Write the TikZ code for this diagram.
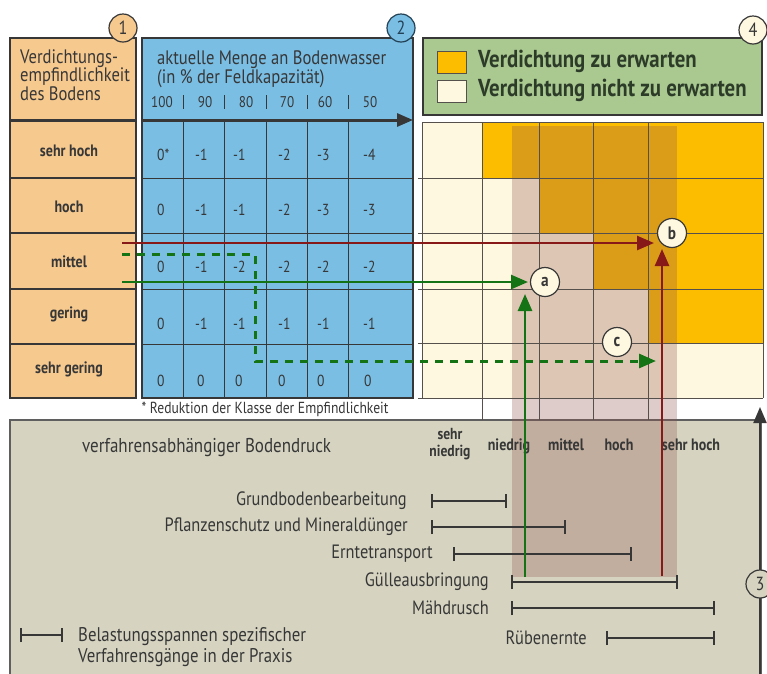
\documentclass[tikz,border=0pt]{standalone}
\usepackage{fontspec}
\setmainfont{PT Sans}[FakeStretch=0.85]
\usetikzlibrary{arrows.meta}
\definecolor{ob}{RGB}{246,201,143}
\definecolor{bb}{RGB}{122,190,228}
\definecolor{cr}{RGB}{254,248,224}
\definecolor{og}{RGB}{252,188,0}
\definecolor{lg}{RGB}{170,201,145}
\definecolor{gb}{RGB}{214,212,193}
\definecolor{dk}{RGB}{55,55,55}
\definecolor{ln}{RGB}{85,80,75}
\definecolor{lt}{RGB}{45,60,40}
\definecolor{db}{RGB}{35,65,85}
\definecolor{rd}{RGB}{135,25,25}
\definecolor{gn}{RGB}{20,115,20}
\definecolor{bandc}{RGB}{145,88,80}
\begin{document}
\begin{tikzpicture}[x=1pt,y=-1pt,
  frame/.style={draw=dk, line width=1.3pt},
  gline/.style={draw=ln, line width=1pt},
  num/.style={circle, draw=dk, line width=1.2pt, minimum size=28pt, inner sep=0pt, font=\fontsize{19}{19}\selectfont, text=dk},
  abc/.style={num, fill=cr, minimum size=29pt, font=\fontsize{18}{18}\selectfont\bfseries},
  rowlab/.style={font=\fontsize{16.5}{16.5}\selectfont\bfseries, text=dk, inner sep=0pt, anchor=base},
  val/.style={font=\fontsize{16}{16}\selectfont, text=dk, inner sep=0pt, anchor=base west},
  colnum/.style={font=\fontsize{15.5}{15.5}\selectfont, text=dk, inner sep=0pt, anchor=base},
  head/.style={font=\fontsize{19.5}{16.5}\selectfont, text=dk, inner sep=0pt, anchor=base west, align=left},
  leg/.style={font=\fontsize{24.5}{24.5}\selectfont\bfseries, text=lt, inner sep=0pt, anchor=west},
  proc/.style={font=\fontsize{19.3}{19.3}\selectfont, text=dk, inner sep=0pt, anchor=east},
  foot/.style={font=\fontsize{16}{16}\selectfont, text=dk, inner sep=0pt, anchor=base},
  spanbar/.style={draw=dk, line width=2.4pt, {Bar[width=14pt]}-{Bar[width=14pt]}},
  redarr/.style={draw=rd, line width=2.6pt, -{Triangle[length=17pt,width=14pt]}},
  grnarr/.style={draw=gn, line width=2.6pt, -{Triangle[length=17pt,width=14pt]}},
  grndash/.style={grnarr, line width=3pt, dash pattern=on 8pt off 7pt},
  axarr/.style={draw=dk, line width=2pt, -{Triangle[length=16pt,width=13pt]}}
]
\clip (0,0) rectangle (767,673);
\fill[white] (0,0) rectangle (767,673);

% ---------- bottom box ----------
\draw[draw=dk!80, line width=1.3pt, fill=gb] (10,690) -- (10,420) -- (761,420) -- (761,690);

% ---------- panel 1 (orange) ----------
\draw[frame, fill=ob] (10,38) rectangle (136,398);
\draw[dk, line width=3pt] (10,120) -- (136,120);
\foreach \yy in {178,233,289,344} \draw[dk, line width=1.2pt] (10,\yy) -- (136,\yy);
\node[head, anchor=north west] (h1) at (20,49) {Verdichtungs-\\empfindlichkeit\\des Bodens};
\node[rowlab] (r1) at (69,156) {sehr hoch};
\node[rowlab] (r2) at (69,212) {hoch};
\node[rowlab] (r3) at (69,267) {mittel};
\node[rowlab] (r4) at (69,318) {gering};
\node[rowlab] (r5) at (69,373) {sehr gering};

% ---------- panel 2 (blue) ----------
\draw[frame, fill=bb] (142,38) rectangle (413,398);
\foreach \yy in {178,233,289,344} \draw[dk, line width=1pt] (142,\yy) -- (413,\yy);
\foreach \xx in {183,224,266,307,348} {
  \draw[dk, line width=1pt] (\xx,120) -- (\xx,398);
  \draw[dk, line width=1pt] (\xx,95) -- (\xx,109);
}
\coordinate (axs) at (142,120);
\coordinate (axe) at (413,120);
\draw[dk, line width=3pt, -{Triangle[length=16pt,width=13pt]}] (axs) -- (axe);
\node[head, anchor=north west, font=\fontsize{19.5}{18}\selectfont] (h2) at (157,50) {aktuelle Menge an Bodenwasser\\(in \% der Feldkapazität)};
\node[colnum] (c100) at (162,107) {100};
\node[colnum] (c90) at (205,107) {90};
\node[colnum] (c80) at (246,107) {80};
\node[colnum] (c70) at (287,107) {70};
\node[colnum] (c60) at (325,107) {60};
\node[colnum] (c50) at (370,107) {50};
% values
\node[val] (v11) at (157,160) {0*};
\node[val] (v12) at (195,160) {-1};
\node[val] (v13) at (233,160) {-1};
\node[val] (v14) at (278,160) {-2};
\node[val] (v15) at (317,160) {-3};
\node[val] (v16) at (363,160) {-4};
\node[val] (v21) at (157,215) {0};
\node[val] (v22) at (195,215) {-1};
\node[val] (v23) at (233,215) {-1};
\node[val] (v24) at (278,215) {-2};
\node[val] (v25) at (317,215) {-3};
\node[val] (v26) at (363,215) {-3};
\node[val] (v31) at (157,272) {0};
\node[val] (v32) at (195,272) {-1};
\node[val] (v33) at (233,272) {-2};
\node[val] (v34) at (278,272) {-2};
\node[val] (v35) at (317,272) {-2};
\node[val] (v36) at (363,272) {-2};
\node[val] (v41) at (157,329) {0};
\node[val] (v42) at (195,329) {-1};
\node[val] (v43) at (233,329) {-1};
\node[val] (v44) at (278,329) {-1};
\node[val] (v45) at (317,329) {-1};
\node[val] (v46) at (363,329) {-1};
\node[val] (v51) at (157,386) {0};
\node[val] (v52) at (197,386) {0};
\node[val] (v53) at (235,386) {0};
\node[val] (v54) at (278,386) {0};
\node[val] (v55) at (317,386) {0};
\node[val] (v56) at (364,386) {0};
\node[foot] (fn) at (265,413) {* Reduktion der Klasse der Empfindlichkeit};

% ---------- panel 4 legend ----------
\draw[frame, fill=lg] (423,38) rectangle (762,115);
\draw[draw=ln, line width=0.6pt, fill=og] (437,51) rectangle (466,73);
\draw[draw=ln, line width=0.6pt, fill=cr] (437,80) rectangle (466,102);
\node[leg] (l1) at (478,61.5) {Verdichtung zu erwarten};
\node[leg] (l2) at (478,90.5) {Verdichtung nicht zu erwarten};

% ---------- result grid ----------
\fill[cr] (422,122) rectangle (763,398);
\fill[og] (482,122) -- (763,122) -- (763,343) -- (648,343) -- (648,289) -- (593,289)
  -- (593,233) -- (539,233) -- (539,178) -- (482,178) -- cycle;
\fill[bandc, opacity=0.3] (512,126) rectangle (677,577);
\foreach \xx in {482,539,593,648} \draw[gline] (\xx,122) -- (\xx,420);
\draw[gline] (422,122) -- (422,398);
\draw[gline] (763,122) -- (763,398);
\draw[gline] (422,122) -- (763,122);
\foreach \yy in {178,233,289,343,398} \draw[gline] (418,\yy) -- (763,\yy);

% ---------- bottom panel texts ----------
\node[font=\fontsize{20}{20}\selectfont, text=dk, inner sep=0pt, anchor=base west] (bd) at (82,452) {verfahrensabhängiger Bodendruck};
\node[rowlab, align=center, font=\fontsize{16}{16.5}\selectfont\bfseries] (sn) at (450,456) {sehr\\niedrig};
\node[rowlab] (nd) at (509,450) {niedrig};
\node[rowlab] (mt) at (566,450) {mittel};
\node[rowlab] (hc) at (619,450) {hoch};
\node[rowlab] (sh) at (691,450) {sehr hoch};

\node[proc] (p1) at (407,501) {Grundbodenbearbeitung};
\node[proc] (p2) at (408,527) {Pflanzenschutz und Mineraldünger};
\node[proc] (p3) at (433,554) {Erntetransport};
\node[proc] (p4) at (489,582) {Gülleausbringung};
\node[proc] (p5) at (489,608) {Mähdrusch};
\node[proc] (p6) at (587,638) {Rübenernte};
\draw[spanbar] (431,501) -- (507,501);
\draw[spanbar] (431,527) -- (566,527);
\draw[spanbar] (453,554) -- (632,554);
\draw[spanbar] (511,582) -- (678,582);
\draw[spanbar] (511,608) -- (715,608);
\draw[spanbar] (606,638) -- (715,638);

\draw[spanbar] (20,635) -- (63,635);
\node[font=\fontsize{19.8}{21}\selectfont, text=dk, inner sep=0pt, anchor=north west, align=left] (lb) at (78,627) {Belastungsspannen spezifischer\\Verfahrensgänge in der Praxis};

% ---------- axis 3 ----------
\coordinate (ax3s) at (760,700);
\coordinate (ax3e) at (760,407);
\draw[axarr] (ax3s) -- (ax3e);

% ---------- arrows ----------
\coordinate (rA) at (122,243);
\coordinate (rB) at (654,243);
\coordinate (rC) at (662,576);
\coordinate (rD) at (662,249);
\coordinate (gA) at (122,282);
\coordinate (gB) at (528,282);
\coordinate (gC) at (525,577);
\coordinate (gD) at (525,294);
\coordinate (dA) at (122,254);
\coordinate (dB) at (255,254);
\coordinate (dC) at (255,361);
\coordinate (dD) at (656,361);
\draw[redarr] (rA) -- (rB);
\draw[redarr] (rC) -- (rD);
\draw[grnarr] (gA) -- (gB);
\draw[grnarr] (gC) -- (gD);
\draw[grndash] (dA) -- (dB) -- (dC) -- (dD);

% ---------- circles ----------
\node[num, fill=ob] (n1) at (123,28) {1};
\node[num, fill=bb, draw=db, text=db] (n2) at (401,28) {2};
\node[num, fill=cr] (n4) at (753,30) {4};
\node[num, fill=gb] (n3) at (760,584) {3};
\node[abc] (ca) at (545,282) {a};
\node[abc] (cb) at (672,233) {b};
\node[abc] (cc) at (617,342) {c};
\end{tikzpicture}
\end{document}
